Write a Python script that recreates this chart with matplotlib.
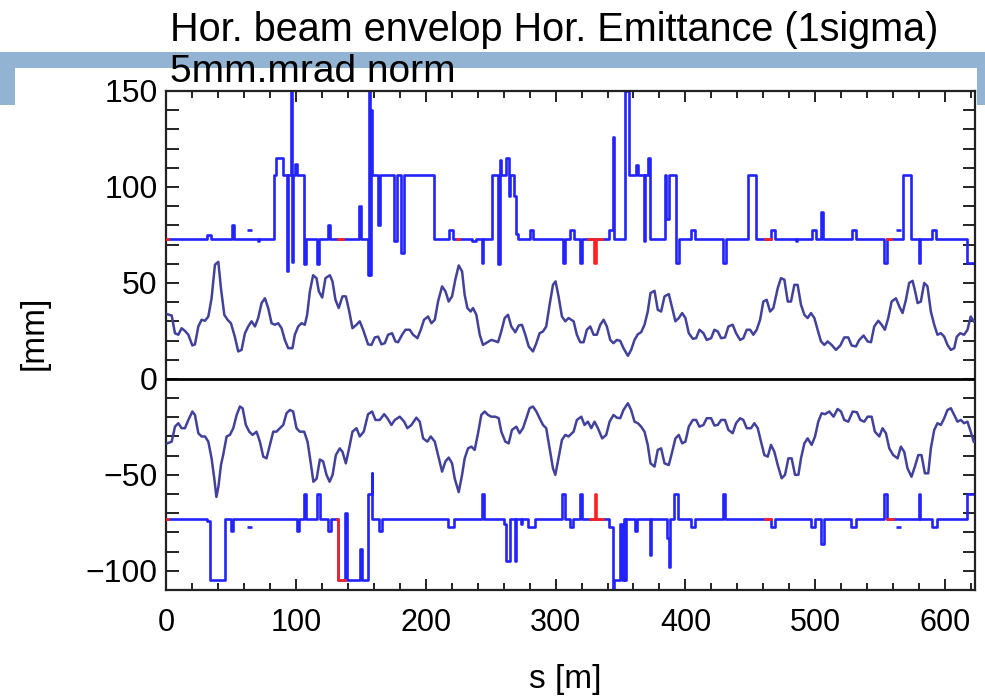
import numpy as np
import matplotlib.pyplot as plt
from matplotlib.patches import Rectangle
from matplotlib.ticker import MultipleLocator

plt.rcParams['font.family'] = ['Liberation Sans', 'DejaVu Sans']

# horizontal beam envelope, upper side [mm] vs s [m]
env_up_s = [1, 4.4, 6.9, 9.5, 12, 14.6, 17.2, 20.3, 22.3, 24.9, 27.4, 30, 32.6, 35.1, 37.7, 40.3, 42.3,
            44.9, 47.4, 50, 53, 55.6, 58.2, 60.8, 63.3, 65.9, 68.5, 71, 73.6, 76.2, 78.7, 81.3, 83.8,
            86.4, 89, 91.5, 94.1, 97.4, 99.2, 101.8, 104.4, 106.9, 108.7, 110.8, 113.3, 115.9, 117.7,
            120.3, 122.8, 126.2, 128.2, 130.5, 133, 135.9, 138.5, 141, 143.6, 146.7, 149.2, 151.8, 155.6,
            158.2, 160.8, 163.4, 165.9, 168.5, 171, 174.1, 176.7, 178.7, 181.8, 184.4, 187.7, 190.3,
            193.6, 196.2, 198.7, 201.8, 204.4, 207, 209.5, 212.6, 215.2, 217.7, 220.3, 222.8, 225.4,
            228, 230, 232.1, 234.6, 236.4, 239, 241.6, 244.1, 247.5, 250.5, 253.1, 255.7, 258.2, 260.8,
            263.4, 265.9, 269, 271.6, 274.1, 276.7, 279.3, 282.6, 285.2, 287.7, 290.3, 292.8, 295.4,
            298, 300, 302.3, 304.9, 307.5, 310, 313.9, 316.4, 319, 321.6, 324.1, 326.7, 329.3, 331.8,
            334.4, 337, 339.5, 342.1, 344.6, 347.2, 349.8, 352.3, 355.7, 358.2, 360.8, 363.4, 365.9,
            368.5, 371, 373.1, 376.2, 378.7, 381.3, 383.9, 387.2, 389.8, 392.3, 394.9, 397.5, 400,
            402.6, 405.7, 408.2, 410.8, 413.9, 416.4, 419.8, 422.3, 424.9, 427.5, 430.5, 433.1, 436.4,
            439, 442.1, 444.6, 447.2, 449.8, 452.3, 454.9, 457.5, 460, 462.6, 465.2, 467.7, 471.1,
            473.6, 476.2, 478.8, 481.3, 483.9, 486.4, 489, 491.6, 494.1, 496.7, 499.3, 501.8, 504.4,
            507, 509.5, 512.6, 515.9, 519.3, 522.3, 525.4, 528, 531.3, 533.9, 537.2, 540.3, 542.9,
            545.4, 548.5, 551.1, 553.6, 556.2, 558.8, 562.1, 564.7, 567.2, 569.8, 572.3, 574.9, 576.9,
            578.8, 581.3, 583.9, 586.4, 589, 591.6, 594.1, 596.7, 599.3, 601.8, 604.4, 607, 609, 611.6,
            614.6, 617.2, 619.7, 622]
env_up = [33.7, 33, 23.8, 23, 26.4, 25, 23, 17.4, 18, 27.3, 30.8, 30.3, 32.5, 42, 59.5, 61, 47.3,
          33.4, 30.8, 29, 22, 14.3, 15.1, 23.8, 27.3, 30, 27.3, 31.7, 39.5, 42, 36.9, 29, 28.2,
          29, 26.4, 20.3, 16, 16, 23, 27.3, 29, 28.2, 33.4, 45.6, 54, 52.5, 45.6,
          42.4, 52.5, 54, 50.8, 41.2, 36.9, 43, 43, 35.5, 26.4, 28.2, 30, 25.6, 18,
          17.7, 21.6, 22, 18, 18.6, 23, 23.8, 19.5, 19.1, 23, 25.6, 25.6, 23,
          21.2, 25.6, 30.8, 32.5, 29, 30.8, 40.3, 48.2, 45.6, 40.3, 43, 51.7, 59.1,
          56, 43.8, 36.9, 35.1, 36.9, 33.4, 23, 17.7, 19.1, 20.3, 19.8, 19.1, 24.7, 31.7,
          33.4, 27.3, 24.3, 27.8, 28.2, 23, 16.9, 14.3, 18.6, 23.8, 24.7, 27.3, 38.6,
          49, 50.8, 43, 32.5, 30, 31.7, 30, 23, 19.1, 19.1, 25.6, 27.3, 23, 23,
          28.2, 30.8, 27.3, 20.3, 18.6, 20.3, 19.8, 16, 12, 15.1, 20.3, 23.3, 24.3,
          28.2, 35.1, 44.7, 45.9, 36, 35.1, 43, 44.2, 36.9, 30, 31.7, 34.3, 31.7,
          23.8, 20.9, 21.2, 25.6, 23.8, 20.3, 21.2, 25.6, 24.7, 21.2, 21.6, 27.3, 28.2,
          23.8, 20.3, 21.2, 25.6, 25.6, 23, 25.6, 30.8, 40.3, 41.2, 35.1, 36.9, 47.3,
          52.5, 51.7, 40.3, 40.3, 49, 49, 38.6, 33.4, 31.7, 34.3, 31.7, 25.6, 19.5,
          17.7, 19.5, 17.7, 15.1, 17.4, 21.6, 21.6, 17.4, 16.9, 20.3, 22.6, 19.5, 19.1,
          27.3, 30.3, 28.2, 25.6, 31.7, 40.3, 42, 37.7, 34.3, 41.2, 50, 51.1, 45.6,
          39.5, 40.3, 50, 48.2, 35.1, 28.2, 23, 23.8, 22, 17.7, 15.1, 16, 22, 23.8,
          23, 25.6, 32.5, 30]

# lower side of the envelope
env_lo_s = [1, 4.4, 6.9, 9.5, 12, 14.6, 17.2, 20.3, 22.3, 24.9, 27.4, 30, 32.6, 35.1, 37.2, 38.8,
            40.4, 42.3, 44, 46.7, 49.2, 51.8, 54.4, 56.9, 59, 61.5, 64.1, 66.7, 69.7, 72.3, 74.9,
            77.4, 80, 82.6, 85.1, 87.7, 90.3, 92.8, 95.4, 97.9, 100.5, 103, 106.4, 109, 111.5, 113.5,
            116, 118.5, 121, 123.6, 126, 128.3, 130.8, 133.8, 135.9, 138.5, 141, 143.6, 146.7, 149.2,
            152.3, 155.6, 158.7, 161.3, 164.6, 168, 170.5, 173.6, 176.2, 180, 183.4, 185.9, 189,
            192.8, 195.4, 198, 201.3, 203.9, 207, 209.5, 212.6, 215.2, 217.7, 220.3, 222.3, 225.4,
            228, 230, 232.6, 235.2, 237.7, 240.3, 242.8, 245.4, 248, 250.5, 253.6, 256.2, 258.2,
            261.3, 263.9, 266.4, 269.8, 272.3, 274.9, 277.5, 280, 282.6, 285.2, 287.7, 290.3, 292.8,
            295.4, 298, 299.8, 301.8, 304.9, 307.5, 310, 313.9, 316.4, 319.8, 322.3, 324.9, 327.5,
            330, 332.6, 335.9, 339, 341.6, 344.6, 347.2, 349.8, 352.3, 355.7, 358.2, 360.8, 363.4,
            365.9, 368.5, 371, 373.1, 376.2, 378.7, 381.3, 383.9, 387.2, 389.8, 392.3, 394.9, 397.5,
            400, 402.6, 405.7, 408.2, 410.8, 413.9, 416.4, 419.8, 422.3, 424.9, 427.5, 430.5, 433.1,
            436.4, 439, 442.1, 444.6, 447.2, 450.5, 453.1, 455.7, 458.2, 460.8, 463.4, 465.9, 468.5,
            471.1, 474.1, 476.7, 479.3, 481.8, 484.4, 487, 489, 491.6, 494.1, 497.2, 499.8, 502.3,
            504.9, 507.5, 510.8, 514.1, 517.2, 519.8, 522.3, 525.4, 528.8, 532.1, 534.7, 537.7,
            540.3, 543.4, 545.9, 549.3, 551.8, 554.4, 557, 560, 563.4, 565.9, 568.5, 571, 574.1,
            576.7, 579.3, 581.8, 584.4, 587, 589, 591.6, 594.1, 596.7, 599.3, 601.8, 604.4, 607,
            609.5, 612.1, 614.6, 617.2, 619.7, 622]
env_lo = [-33.6, -32.7, -24.9, -23.1, -25.7, -25.7, -21.4, -17, -18.8, -28.3, -30, -30, -32.7, -41.4, -52, -61.5,
          -56, -45, -39.7, -30, -29.2, -25.7, -18.8, -14.4, -15.3, -24, -27.5, -29.2, -27.5, -32.7, -40.5,
          -41.4, -34.4, -27.5, -27.5, -25.7, -24, -17.9, -16.2, -17, -25.7, -27.5, -27.5, -32.7, -44, -53.6,
          -52, -42, -43, -50, -53.6, -50, -39.7, -36.2, -38, -44, -36.2, -27.5, -25.7, -30,
          -27.5, -18.4, -17, -21.4, -21.4, -18.4, -20.5, -24, -21.4, -19.7, -22.3, -25.7, -24,
          -20.2, -22.3, -31, -32.7, -30, -32.7, -39.7, -48.3, -43, -41, -44, -51.8, -59,
          -50, -41.4, -36.2, -35.3, -37, -28.3, -18.8, -17, -18.8, -19.7, -19.7, -20.5, -27.5,
          -32.7, -33.6, -26.6, -24.9, -28.3, -25.7, -20.5, -15.3, -14.4, -17, -20.5, -24, -25.7,
          -36.2, -46.6, -50, -43, -31.8, -29.2, -30, -27.5, -21.4, -19.7, -24, -22.3, -25.7,
          -22.3, -25.7, -31, -29.2, -22.3, -18.8, -20.2, -20.5, -16.2, -12.7, -16.2, -22.3, -23.1,
          -24.9, -27.5, -34.4, -44, -45.7, -37, -36.2, -44, -44.9, -38, -31, -29.2, -33.6,
          -32.7, -24.9, -21.4, -21.4, -24.9, -24, -20.5, -20.5, -24.3, -24, -21.4, -21.4, -26.6,
          -28.3, -23.1, -20.5, -21.4, -25.7, -25.7, -23.1, -25.7, -32.7, -39.7, -40.5, -34.4, -38,
          -44.9, -51.8, -50, -41.4, -41.4, -50, -50, -41.4, -33.6, -31, -34.4, -30, -22.3,
          -17.9, -18.4, -17, -19.7, -15.7, -17, -21.4, -22.3, -17, -17.4, -21.4, -22.3,
          -19.7, -19.7, -27.5, -30, -25.7, -28.3, -36.2, -39.7, -41.4, -35.3, -38, -46.6, -51,
          -45.7, -39.7, -39.7, -49.2, -49.2, -36.2, -26.6, -23.1, -24, -20.5, -16.2, -15.3, -18.8,
          -22.3, -21.4, -23.1, -22.3, -27.5, -32.7]

# vacuum chamber aperture (step starts and half-apertures) [mm]
ap_top_s = [0, 31.5, 35, 50.5, 52, 71, 72, 83.3, 84.8, 90.2, 92.8, 94.0, 96.5, 97.2, 97.8, 99.5, 101,
            106, 107.5, 116, 117.5, 125, 126, 148.8, 150, 155.2, 156, 157, 158, 159, 163.5, 165,
            175.8, 177.6, 180.6, 183.6, 206, 217.7, 221, 236, 239, 243, 244.5, 251.3, 256, 257, 258,
            262, 264, 264.8, 268, 269.5, 271.3, 280, 283, 305.5, 307, 311, 314, 318.5, 320.5, 341.5,
            344.2, 345, 353.8, 356.4, 362, 363.5, 368.3, 369, 371.5, 372.5, 384.4, 385.2, 387.7,
            392.8, 394.8, 404, 407, 429, 431, 448, 454.4, 466, 469, 485, 485.7, 497.5, 500.5, 504.6,
            506, 528, 531, 553, 555.5, 567.7, 573.6, 580, 580.6, 589.7, 593.3, 616.7, 623]
ap_top = [73, 75, 73, 80, 73, 72, 73, 106, 115, 106, 56, 106, 150, 61, 106, 112, 106,
          60, 73, 60, 73, 80, 73, 90, 73, 54, 150, 54, 140, 106, 80, 106,
          72, 106, 65.5, 106, 73, 77.6, 73, 72, 73, 60.4, 73, 106, 60, 114, 106,
          115, 95.5, 106, 95.5, 75.5, 73, 77.6, 73, 60.4, 73, 77.6, 73, 60.4, 73, 77.6,
          126, 73, 150, 106, 111.5, 106, 72, 106, 115, 73, 106, 83.3, 106,
          60.4, 73, 77.6, 73, 60.4, 73, 106, 73, 77.6, 73, 72, 73, 77.6, 73, 87,
          73, 77.6, 73, 60.4, 73, 106, 73, 60.4, 73, 77.6, 73, 60.4, 60.4]

ap_bot_s = [0, 31.5, 33.8, 45.4, 50, 51.5, 100.5, 102.5, 106, 108, 116.5, 118.5, 124.6, 126.9, 132.6,
            137.7, 139.5, 149.2, 151, 155.4, 158.3, 159, 163.7, 166, 217, 221.5, 243, 244.6, 260,
            261.8, 264.6, 268.7, 269.3, 273, 274.5, 279, 284, 305, 307.5, 310.8, 313.3, 318.5, 320,
            341.5, 344.2, 345, 349.5, 351.5, 352.8, 353.6, 354.4, 360.8, 363, 372.6, 373.2, 385.6,
            387.2, 388, 391.5, 394, 404, 407.5, 428.7, 430.8, 466, 469, 496.7, 500, 504.4, 507,
            527.4, 531.3, 553, 555.6, 579.5, 580.5, 589.7, 593.6, 617, 623]
ap_bot = [-73, -74, -104.7, -73, -79, -73, -79, -73, -60, -73, -60, -73, -79, -73, -104.7,
          -70, -104.7, -88.5, -104.7, -60, -49, -73, -79, -73, -77, -73, -60, -73, -75.5,
          -95, -73, -95, -73, -75.5, -73, -77, -73, -60, -73, -77, -73, -60, -73,
          -77, -112, -104.7, -75.5, -104.7, -73, -104.7, -73, -79, -73, -92, -73, -83,
          -98, -73, -60, -73, -77, -73, -60, -73, -77, -73, -77, -73, -86, -73,
          -77, -73, -60, -73, -60, -73, -77, -73, -60, -60]

# elements marked in red (nan separates runs)
red_top_s = [0, 1.2, np.nan, 132.5, 136, np.nan, 324.7, 329.5, 331.5, 335.4, np.nan,
             224, 225.5, np.nan, 461.5, 465.9, np.nan, 555.5, 558.5]
red_top = [73, 73, np.nan, 73, 73, np.nan, 73, 60.4, 73, 73, np.nan,
           73, 73, np.nan, 73, 73, np.nan, 73, 73]
red_bot_s = [0, 1.2, np.nan, 132.0, 132.6, 137.7, np.nan, 326.5, 330, 331.3, 336.5, np.nan,
             461.5, 465.9, np.nan, 555.6, 560]
red_bot = [-73, -73, np.nan, -73, -104.7, -104.7, np.nan, -73, -60, -73, -73, np.nan,
           -73, -73, np.nan, -73, -73]

# short detached aperture pieces
dash_s0 = [62, 562]
dash_s1 = [66, 566]
dash_top = [77.6, 77.6]
dash_bot = [-77, -77]

ap_color = '#2323ff'
env_color = '#42429c'

fig = plt.figure(figsize=(9.85, 6.98), dpi=100)
fig.add_artist(Rectangle((0, 1 - 105 / 698), 1, 53 / 698, transform=fig.transFigure,
                         facecolor='#93b3d2', edgecolor='none', zorder=0))
fig.add_artist(Rectangle((15 / 985, 1 - 120 / 698), 962 / 985, 52 / 698, transform=fig.transFigure,
                         facecolor='white', edgecolor='none', zorder=0))

ax = fig.add_axes([166 / 985, 1 - 590 / 698, 809 / 985, 499 / 698])
ax.set_facecolor('none')

ax.plot(ap_top_s, ap_top, drawstyle='steps-post', color=ap_color, lw=1.9, zorder=2)
ax.plot(ap_bot_s, ap_bot, drawstyle='steps-post', color=ap_color, lw=1.9, zorder=2)
ax.plot(red_top_s, red_top, drawstyle='steps-post', color='#ff2020', lw=1.9, zorder=3)
ax.plot(red_bot_s, red_bot, drawstyle='steps-post', color='#ff2020', lw=1.9, zorder=3)
ax.hlines(dash_top, dash_s0, dash_s1, color=ap_color, lw=1.9, zorder=2)
ax.hlines(dash_bot, dash_s0, dash_s1, color=ap_color, lw=1.9, zorder=2)

ax.plot(env_up_s, env_up, color=env_color, lw=1.8, zorder=4)
ax.plot(env_lo_s, env_lo, color=env_color, lw=1.8, zorder=4)
ax.axhline(0, color='black', lw=2, zorder=5)

ax.set_xlim(0, 623)
ax.set_ylim(-110, 150)
ax.xaxis.set_major_locator(MultipleLocator(100))
ax.xaxis.set_minor_locator(MultipleLocator(20))
ax.yaxis.set_major_locator(MultipleLocator(50))
ax.yaxis.set_minor_locator(MultipleLocator(10))
ax.tick_params(which='both', direction='in', top=True, right=True, width=1.4, color='#222222')
ax.tick_params(axis='x', which='major', length=8, pad=13, labelsize=22)
ax.tick_params(axis='x', which='minor', length=5)
ax.tick_params(axis='y', which='both', length=9)
ax.tick_params(axis='y', which='major', pad=6, labelsize=23)
for sp in ax.spines.values():
    sp.set_linewidth(1.6)
    sp.set_color('#222222')

ax.set_xlabel('s [m]', fontsize=24, va='center')
ax.set_ylabel('[mm]', fontsize=24, va='center')
ax.xaxis.set_label_coords(0.493, -0.18)
ax.yaxis.set_label_coords(-0.163, 0.515)

fig.text(170 / 985, 1 - 30 / 698, 'Hor. beam envelop Hor. Emittance (1sigma)', fontsize=28.5,
         va='center', ha='left', zorder=10)
fig.text(170 / 985, 1 - 72 / 698, '5mm.mrad norm', fontsize=28, va='center', ha='left', zorder=10)

fig.savefig('out.png', dpi=100)
